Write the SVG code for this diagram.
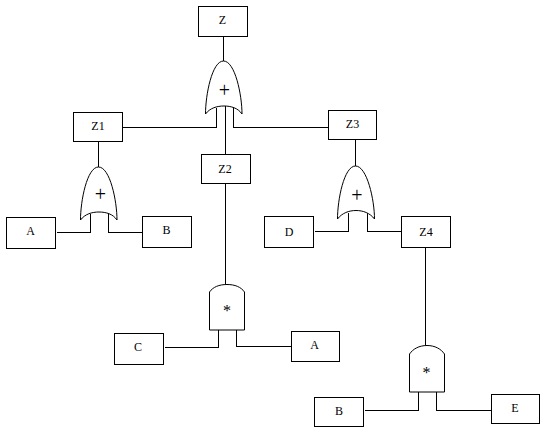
<svg xmlns="http://www.w3.org/2000/svg" width="553" height="434" viewBox="0 0 553 434">
<style>
.b{fill:#fff;stroke:#000;stroke-width:1}
.g{fill:#fff;stroke:#000;stroke-width:1}
.c{fill:none;stroke:#000;stroke-width:1;shape-rendering:crispEdges}
text{font-family:"Liberation Serif","DejaVu Serif",serif;font-size:12px;fill:#000;text-anchor:middle}
.p{font-size:20px}
.s{font-size:16px}
</style>
<rect width="553" height="434" fill="#fff"/>
<g id="connectors">
<path class="c" d="M223.500 36V61"/>
<path class="c" d="M122 127.500H216.500V108"/>
<path class="c" d="M328 127.500H233.500V108"/>
<path class="c" d="M225.500 106V154"/>
<path class="c" d="M225.500 183V284"/>
<path class="c" d="M98.500 141V167"/>
<path class="c" d="M57 232.500H90.500V214"/>
<path class="c" d="M142 232.500H108.500V214"/>
<path class="c" d="M355.500 139V166"/>
<path class="c" d="M315 231.500H348.500V213"/>
<path class="c" d="M401 231.500H367.500V213"/>
<path class="c" d="M425.500 247V345"/>
<path class="c" d="M165 347.500H218.500V330"/>
<path class="c" d="M291 346.500H236.500V330"/>
<path class="c" d="M365 410.500H418.500V392"/>
<path class="c" d="M491 410.500H436.500V392"/>
</g>
<g id="gate-or-top"><path class="g" d="M205.500 114C205.500 95 212 61 223.500 61C235 61 242 95 242 114C238 108 231 106 224 106C217 106 210 108 205.500 114Z"/><text class="p" x="224.500" y="97">+</text></g>
<g id="gate-or-left"><path class="g" d="M80.500 220C80.500 201 87 167 98.500 167C110 167 117 201 117 220C113 214 106 212 99 212C92 212 85 214 80.500 220Z"/><text class="p" x="100.500" y="201">+</text></g>
<g id="gate-or-right"><path class="g" d="M337.500 219C337.500 200 344 166 355.500 166C367 166 374.500 200 374.500 219C370 213 363 210.500 356 210.500C349 210.500 342 213 337.500 219Z"/><text class="p" x="357" y="202">+</text></g>
<g id="gate-and-left"><path class="g" d="M209.500 330V292C213 287 219 284.500 227 284.500C235 284.500 241 287 244.500 292V330Z"/><text class="s" x="227" y="316">*</text></g>
<g id="gate-and-right"><path class="g" d="M409.500 392V354C413 349 419 345.500 427 345.500C435 345.500 441 349 444.500 354V392Z"/><text class="s" x="426.500" y="378">*</text></g>
<g id="node-z"><rect class="b" x="198.500" y="6.500" width="49" height="30"/><text x="222.500" y="24">Z</text></g>
<g id="node-z1"><rect class="b" x="73.500" y="112.500" width="49" height="29"/><text x="98" y="130">Z1</text></g>
<g id="node-z2"><rect class="b" x="201.500" y="154.500" width="49" height="29"/><text x="225" y="173">Z2</text></g>
<g id="node-z3"><rect class="b" x="328.500" y="110.500" width="48" height="29"/><text x="352.500" y="128">Z3</text></g>
<g id="node-a1"><rect class="b" x="6.500" y="217.500" width="49" height="31"/><text x="30.500" y="235">A</text></g>
<g id="node-b1"><rect class="b" x="142.500" y="216.500" width="49" height="31"/><text x="166.500" y="234">B</text></g>
<g id="node-d"><rect class="b" x="264.500" y="216.500" width="49" height="31"/><text x="289" y="236">D</text></g>
<g id="node-z4"><rect class="b" x="401.500" y="216.500" width="49" height="31"/><text x="426" y="236">Z4</text></g>
<g id="node-c"><rect class="b" x="114.500" y="333.500" width="49" height="31"/><text x="138" y="351">C</text></g>
<g id="node-a2"><rect class="b" x="291.500" y="331.500" width="48" height="30"/><text x="314.500" y="349">A</text></g>
<g id="node-b2"><rect class="b" x="314.500" y="397.500" width="49" height="29"/><text x="339" y="415">B</text></g>
<g id="node-e"><rect class="b" x="491.500" y="394.500" width="48" height="29"/><text x="515" y="412">E</text></g>
</svg>
